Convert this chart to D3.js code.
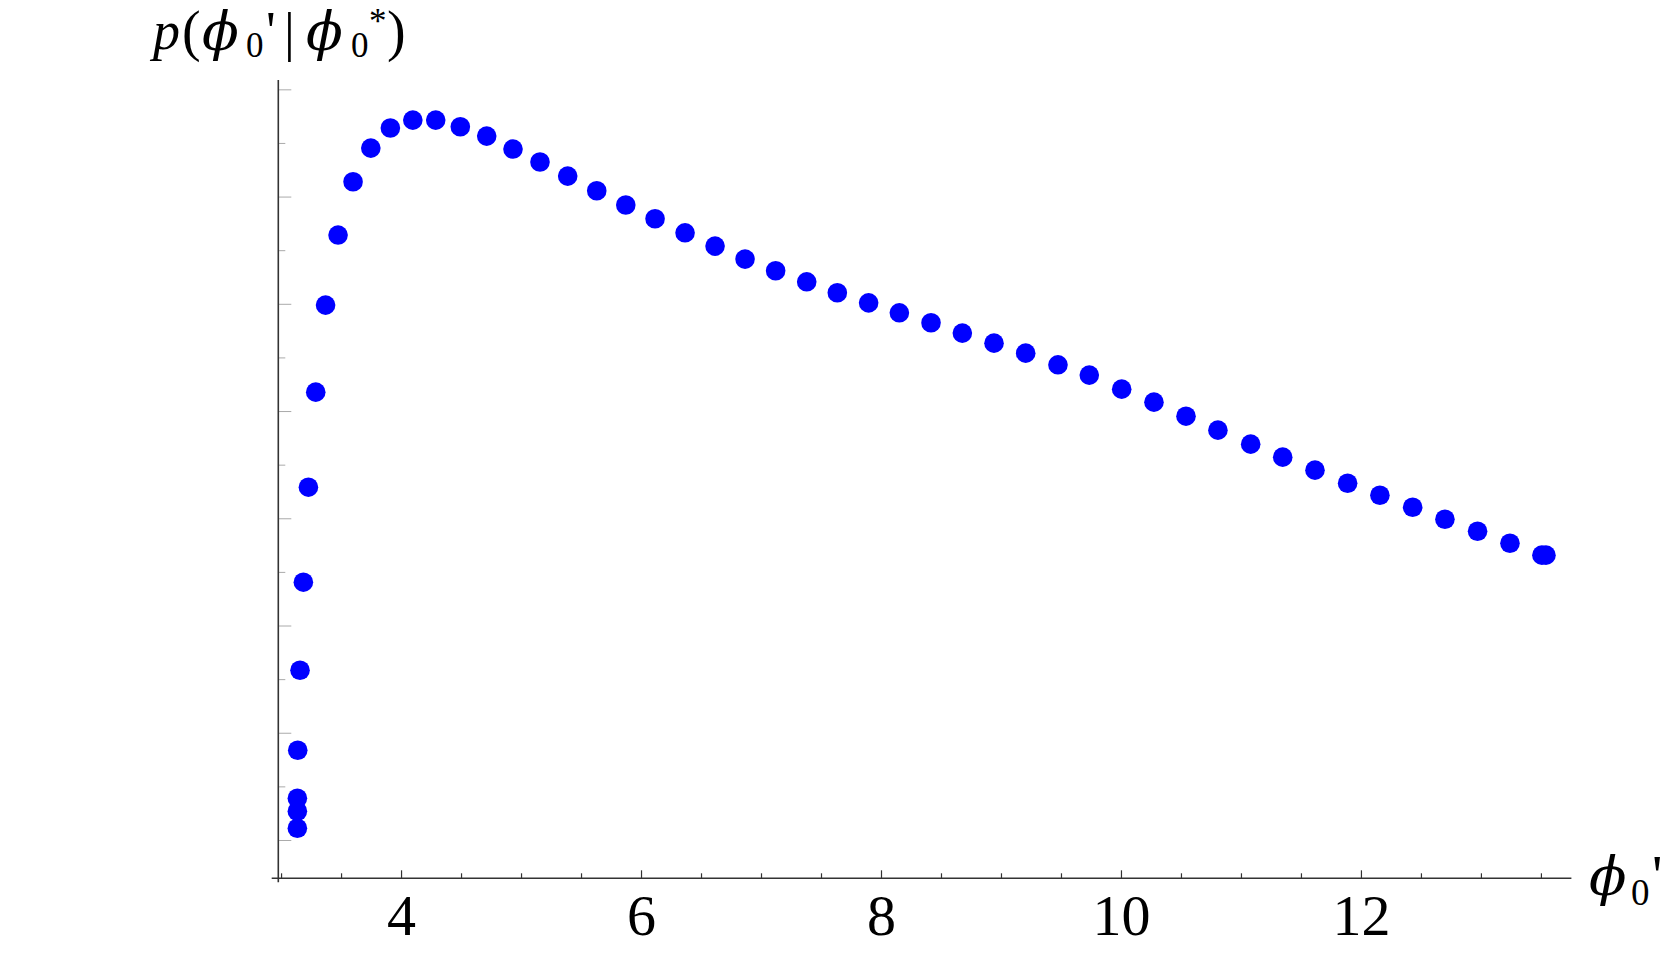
<!DOCTYPE html>
<html>
<head>
<meta charset="utf-8">
<script src="https://cdn.jsdelivr.net/npm/d3@7"></script>
<style>
  body { margin: 0; background: #fff; }
  svg { display: block; }
</style>
</head>
<body>
<script>
// sampled points: phi0' on x, conditional density on y
const phiPrime = [3.136, 3.136, 3.136, 3.139, 3.158, 3.186, 3.228, 3.289, 3.371, 3.475,
                  3.600, 3.748, 3.911, 4.098, 4.289, 4.494, 4.714, 4.933, 5.158, 5.389,
                  5.631, 5.873, 6.117, 6.367, 6.617, 6.867, 7.122, 7.381, 7.636, 7.897,
                  8.153, 8.417, 8.678, 8.942, 9.206, 9.475, 9.736, 10.006, 10.275, 10.542,
                  10.808, 11.081, 11.348, 11.617, 11.889, 12.158, 12.431, 12.700, 12.972, 13.242,
                  13.508, 13.542];
const density = [0.01109, 0.01268, 0.01389, 0.01837, 0.02583, 0.03404, 0.04290, 0.05176, 0.05988, 0.06641,
                 0.07138, 0.07452, 0.07639, 0.07713, 0.07713, 0.07651, 0.07564, 0.07443, 0.07322, 0.07191,
                 0.07054, 0.06921, 0.06793, 0.06662, 0.06538, 0.06417, 0.06308, 0.06205, 0.06103, 0.06009,
                 0.05916, 0.05823, 0.05727, 0.05633, 0.05540, 0.05431, 0.05335, 0.05204, 0.05083, 0.04952,
                 0.04822, 0.04691, 0.04570, 0.04449, 0.04327, 0.04215, 0.04103, 0.03991, 0.03879, 0.03767,
                 0.03656, 0.03656];

// tick values
const xMajorTicks = [4, 6, 8, 10, 12];
const xMinorTicks = [3, 3.5, 4.5, 5, 5.5, 6.5, 7, 7.5, 8.5, 9, 9.5, 10.5, 11, 11.5, 12.5, 13, 13.5];
const yMajorTicks = [0.01, 0.02, 0.03, 0.04, 0.05, 0.06, 0.07, 0.08];
const yMinorTicks = [0.015, 0.025, 0.035, 0.045, 0.055, 0.065, 0.075];

// plot range (axes cross at the lower-left corner)
const xDomain = [2.977, 13.754];
const yDomain = [0.006427, 0.08087];

var width = 1667;
var height = 953;

const serif = "'Liberation Serif', 'Times New Roman', 'DejaVu Serif', serif";
const phiFont = "'DejaVu Serif', serif";   // heavier, rounder phi

var svg = d3.select("body").append("svg")
    .attr("width", width)
    .attr("height", height);

var xScale = d3.scaleLinear().domain(xDomain).range([278.3, 1571.4]);
var yScale = d3.scaleLinear().domain(yDomain).range([878.3, 80]);

const x0 = xScale.range()[0], x1 = xScale.range()[1];
const y0 = yScale.range()[0], y1 = yScale.range()[1];

// ----------------------------------------------------------- //
// y axis: light gray ticks, no labels

svg.append("g")
  .attr("transform", `translate(${x0},0)`)
  .call(d3.axisRight(yScale).tickValues(yMajorTicks).tickSize(13).tickFormat(""))
  .call(g => g.select(".domain").remove())
  .call(g => g.selectAll(".tick line").attr("stroke", "#aaa").attr("stroke-width", 1));

svg.append("g")
  .attr("transform", `translate(${x0},0)`)
  .call(d3.axisRight(yScale).tickValues(yMinorTicks).tickSize(7).tickFormat(""))
  .call(g => g.select(".domain").remove())
  .call(g => g.selectAll(".tick line").attr("stroke", "#aaa").attr("stroke-width", 1));

// ----------------------------------------------------------- //
// x axis: ticks pointing up, big serif labels

svg.append("g")
  .attr("transform", `translate(0,${y0})`)
  .call(d3.axisBottom(xScale).tickValues(xMinorTicks).tickSize(-5).tickFormat(""))
  .call(g => g.select(".domain").remove())
  .call(g => g.selectAll(".tick line").attr("stroke", "#333").attr("stroke-width", 1.2));

svg.append("g")
  .attr("transform", `translate(0,${y0})`)
  .call(d3.axisBottom(xScale).tickValues(xMajorTicks).tickSize(-8).tickFormat(d3.format("d")))
  .call(g => g.select(".domain").remove())
  .call(g => g.selectAll(".tick line").attr("stroke", "#333").attr("stroke-width", 1.2))
  .call(g => g.selectAll(".tick text")
    .attr("y", 57)
    .attr("dy", null)
    .attr("fill", "#000")
    .style("font-family", serif)
    .style("font-size", "58px"));

// axis lines (they cross a little past the origin)
svg.append("line")
  .attr("x1", x0 - 6.6).attr("x2", x1)
  .attr("y1", y0).attr("y2", y0)
  .attr("stroke", "#333").attr("stroke-width", 1.6);

svg.append("line")
  .attr("x1", x0).attr("x2", x0)
  .attr("y1", y1).attr("y2", y0 + 4)
  .attr("stroke", "#333").attr("stroke-width", 1.6);

// ----------------------------------------------------------- //
// points

const points = phiPrime.map((p, i) => ({ x: p, y: density[i] }));

svg.append("g")
  .selectAll("circle")
  .data(points)
  .join("circle")
    .attr("cx", d => xScale(d.x))
    .attr("cy", d => yScale(d.y))
    .attr("r", 9.8)
    .attr("fill", "#0000ff");

// ----------------------------------------------------------- //
// axis labels, one glyph group at a time like the typeset original

function addPieces(pieces) {
  const g = svg.append("g");
  pieces.forEach(s => {
    g.append("text")
      .attr("x", s.x)
      .attr("y", s.y)
      .attr("fill", "#000")
      .style("font-family", s.font || serif)
      .style("font-size", s.size + "px")
      .style("font-style", s.italic ? "italic" : "normal")
      .text(s.t);
  });
}

// y label: p(phi0'| phi0*)
addPieces([
  { t: "p", x: 153, y: 49, size: 54, italic: true },
  { t: "(", x: 182, y: 50, size: 56 },
  { t: "\u03D5", x: 202, y: 50, size: 54, italic: true, font: phiFont },
  { t: "0", x: 246, y: 57, size: 35 },
  { t: "'", x: 266, y: 49, size: 54 },
  { t: "|", x: 284, y: 50, size: 54 },
  { t: "\u03D5", x: 306, y: 50, size: 54, italic: true, font: phiFont },
  { t: "0", x: 351, y: 57, size: 35 },
  { t: "*", x: 369, y: 33, size: 35 },
  { t: ")", x: 387, y: 50, size: 56 }
]);

// x label: phi0'
addPieces([
  { t: "\u03D5", x: 1589, y: 895, size: 55, italic: true, font: phiFont },
  { t: "0", x: 1631, y: 905, size: 37 },
  { t: "'", x: 1652, y: 895, size: 58 }
]);
</script>
</body>
</html>
